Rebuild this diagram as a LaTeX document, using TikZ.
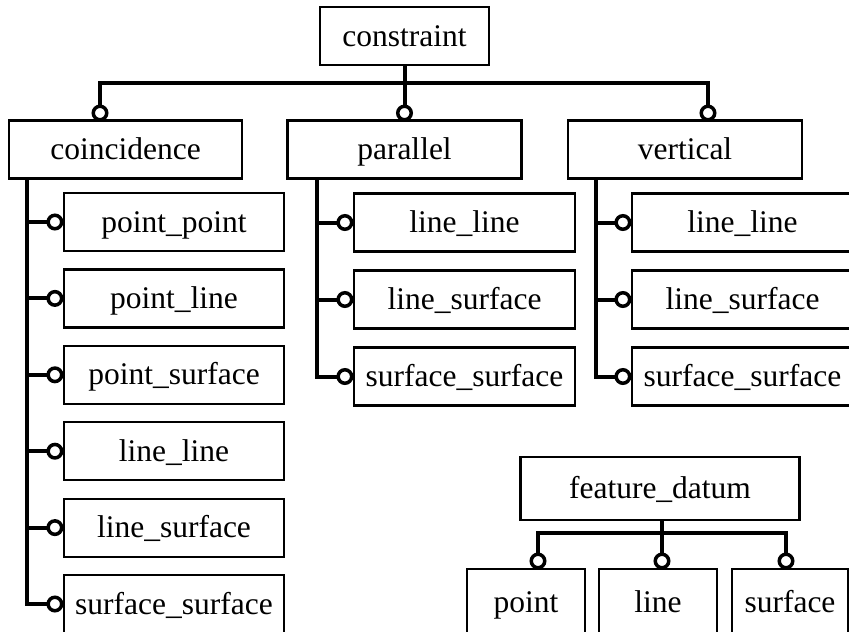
\documentclass[tikz,border=0pt]{standalone}
\usepackage{fontspec}
\setmainfont{Liberation Serif}
\usetikzlibrary{positioning,calc}

\begin{document}
\begin{tikzpicture}[x=1pt, y=-1pt,
    box/.style={rectangle, draw, line width=2.2pt, fill=white, inner sep=0pt, minimum height=58pt, text height=26.5pt, text depth=6.5pt, font=\fontsize{31.5}{36}\selectfont},
    link/.style={line width=4pt},
    joint/.style={circle, draw, line width=3.5pt, fill=white, minimum size=13.5pt, inner sep=0pt}]
    \useasboundingbox (0,0) rectangle (849,632);

    % Root and the three kinds
    \node[box, minimum width=169pt] (constraint) at (404.5,36) {constraint};
    \node[box, minimum width=233pt] (coincidence) at (125.5,149.5) {coincidence};
    \node[box, minimum width=234pt] (parallel) at (404.5,149.5) {parallel};
    \node[box, minimum width=234pt] (vertical) at (685,149.5) {vertical};

    % Coincidence children
    \foreach \i/\y/\name in {1/222/point\_point, 2/298.4/point\_line, 3/374.8/point\_surface, 4/451.2/line\_line, 5/527.6/line\_surface, 6/604/surface\_surface} {
        \node[box, minimum width=220pt] (co\i) at (174,\y) {\name};
    }
    % Parallel and vertical children
    \foreach \i/\y/\name in {1/222.5/line\_line, 2/299.5/line\_surface, 3/376.5/surface\_surface} {
        \node[box, minimum width=221pt] (pa\i) at (464.5,\y) {\name};
        \node[box, minimum width=221pt] (ve\i) at (742.5,\y) {\name};
    }

    % Feature datum
    \node[box, minimum width=279pt, minimum height=63pt] (feature) at (660,488.5) {feature\_datum};
    \node[box, minimum width=118pt, minimum height=66pt] (point) at (526,602) {point};
    \node[box, minimum width=118pt, minimum height=66pt] (line) at (658,602) {line};
    \node[box, minimum width=116pt, minimum height=66pt] (surface) at (790,602) {surface};

    % Bus points and joints
    \coordinate (topbus) at (404.5,83);
    \coordinate (jcoin) at (100,113);
    \coordinate (jpar) at (404.5,113);
    \coordinate (jvert) at (708,113);
    \coordinate (cotrunk) at (27,178);
    \coordinate (patrunk) at (317,178);
    \coordinate (vetrunk) at (596,178);
    \coordinate (fdbus) at (662,533);
    \coordinate (jpoint) at (538,561);
    \coordinate (jline) at (662,561);
    \coordinate (jsurface) at (786,561);

    % Connectors
    \draw[link] (constraint.south) -- (topbus);
    \draw[link] (jcoin) |- (topbus) -| (jvert);
    \draw[link] (topbus) -- (jpar);
    \foreach \i in {1,...,6} {
        \draw[link] (cotrunk) |- (co\i.west);
    }
    \foreach \i in {1,2,3} {
        \draw[link] (patrunk) |- (pa\i.west);
        \draw[link] (vetrunk) |- (ve\i.west);
    }
    \draw[link] (fdbus |- feature.south) -- (fdbus);
    \draw[link] (jpoint) |- (fdbus) -| (jsurface);
    \draw[link] (fdbus) -- (jline);

    % Joint circles
    \foreach \j in {jcoin,jpar,jvert,jpoint,jline,jsurface} {
        \node[joint] at (\j) {};
    }
    \foreach \i in {1,...,6} {
        \node[joint] at ($(co\i.west)+(-8,0)$) {};
    }
    \foreach \i in {1,2,3} {
        \node[joint] at ($(pa\i.west)+(-8,0)$) {};
        \node[joint] at ($(ve\i.west)+(-8,0)$) {};
    }
\end{tikzpicture}
\end{document}
